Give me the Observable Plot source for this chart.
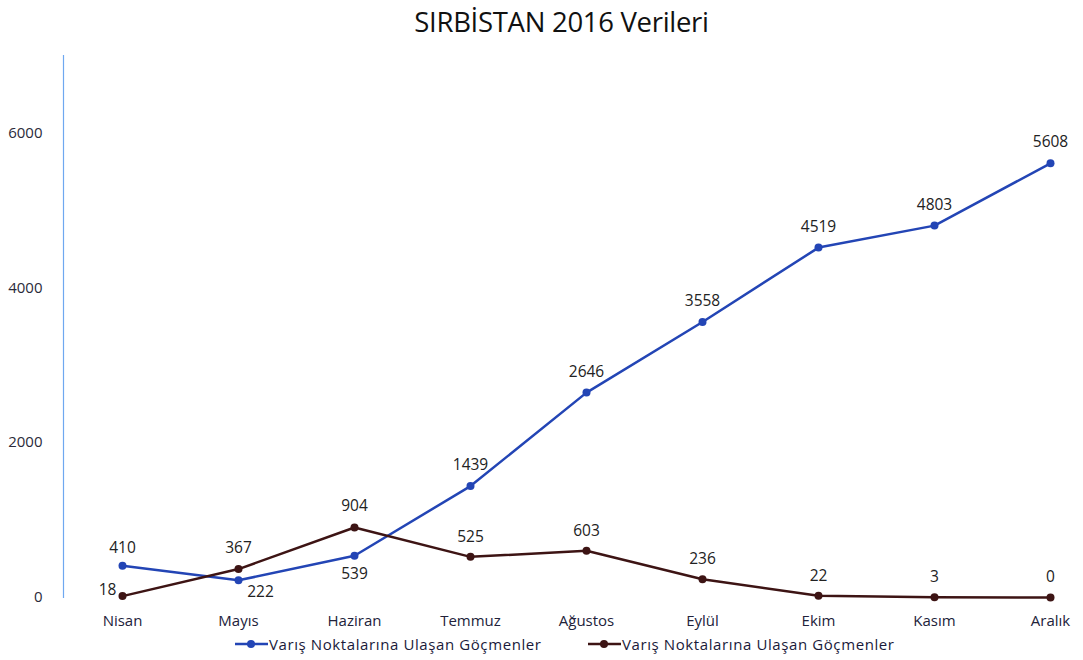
<!DOCTYPE html>
<html>
<head>
<meta charset="utf-8">
<script src="https://cdn.jsdelivr.net/npm/d3@7"></script>
<script src="https://cdn.jsdelivr.net/npm/@observablehq/plot@0.6"></script>
<style>
  body { margin: 0; background: #fff; font-family: "Open Sans", sans-serif; }
  #title { height: 45px; line-height: 44px; text-align: center; font-size: 27.5px; font-weight: 500; color: #111; padding-left: 40px; letter-spacing: -0.3px; }
  #legend { position: relative; height: 28px; font-size: 15px; color: #1a1a3a; letter-spacing: 0.6px; }
  .item { position: absolute; top: 2px; display: flex; align-items: center; white-space: nowrap; }
  .item svg { margin-right: 1px; }
</style>
</head>
<body>
<div id="title">SIRBİSTAN 2016 Verileri</div>
<div id="chart"></div>
<div id="legend"></div>
<script>
const months = ["Nisan", "Mayıs", "Haziran", "Temmuz", "Ağustos", "Eylül", "Ekim", "Kasım", "Aralık"];
const seriesA = [410, 222, 539, 1439, 2646, 3558, 4519, 4803, 5608];
const seriesB = [18, 367, 904, 525, 603, 236, 22, 3, 0];
const seriesNames = ["Varış Noktalarına Ulaşan Göçmenler", "Varış Noktalarına Ulaşan Göçmenler"];
const yTicks = [0, 2000, 4000, 6000];

const colorA = "#2345b5";
const colorB = "#3d1414";

const dataA = months.map((m, i) => ({month: m, value: seriesA[i]}));
const dataB = months.map((m, i) => ({month: m, value: seriesB[i]}));

// label offsets per point
const offA = [[0,-18],[22,12],[0,18],[0,-21],[0,-21],[0,-21],[0,-21],[0,-21],[0,-21]];
const offB = [[-15,-6],[0,-21],[0,-21],[0,-20],[0,-20],[0,-20],[0,-20],[0,-20],[0,-20]];

const labelMarks = (data, offs) => data.map((d, i) => Plot.text([d], {
  x: "month", y: "value", text: d => String(d.value),
  dx: offs[i][0], dy: offs[i][1], fontSize: 15.5, fill: "#222"
}));

const chart = Plot.plot({
  width: 1083,
  height: 587,
  marginLeft: 63,
  marginRight: 32,
  marginTop: 10,
  marginBottom: 35,
  style: {fontFamily: "Open Sans, sans-serif", fontSize: "14px", color: "#2a2a3a"},
  x: {type: "point", domain: months, padding: 0, insetLeft: 57, label: null},
  y: {domain: [0, 7000], label: null},
  marks: [
    Plot.frame({anchor: "left", stroke: "#6fa8f0", strokeOpacity: 1, strokeWidth: 1.2}),
    Plot.axisY({ticks: yTicks, tickFormat: "d", tickSize: 0, tickPadding: 21, fontSize: 15, fill: "#2a2a3a"}),
    Plot.axisX({tickSize: 0, tickPadding: 18, fontSize: 15, fill: "#22223a"}),
    Plot.line(dataA, {x: "month", y: "value", stroke: colorA, strokeWidth: 2.5}),
    Plot.dot(dataA, {x: "month", y: "value", r: 4, fill: colorA}),
    Plot.line(dataB, {x: "month", y: "value", stroke: colorB, strokeWidth: 2.5}),
    Plot.dot(dataB, {x: "month", y: "value", r: 4, fill: colorB}),
    ...labelMarks(dataA, offA),
    ...labelMarks(dataB, offB)
  ]
});
document.getElementById("chart").appendChild(chart);

const legend = document.getElementById("legend");
[[235, colorA, seriesNames[0]], [588, colorB, seriesNames[1]]].forEach(([left, c, name]) => {
  const el = document.createElement("div");
  el.className = "item";
  el.style.left = left + "px";
  el.innerHTML = `<svg width="33" height="12"><line x1="0" y1="6" x2="33" y2="6" stroke="${c}" stroke-width="2.5"/><circle cx="16" cy="6" r="4" fill="${c}"/></svg><span>${name}</span>`;
  legend.appendChild(el);
});
</script>
</body>
</html>
